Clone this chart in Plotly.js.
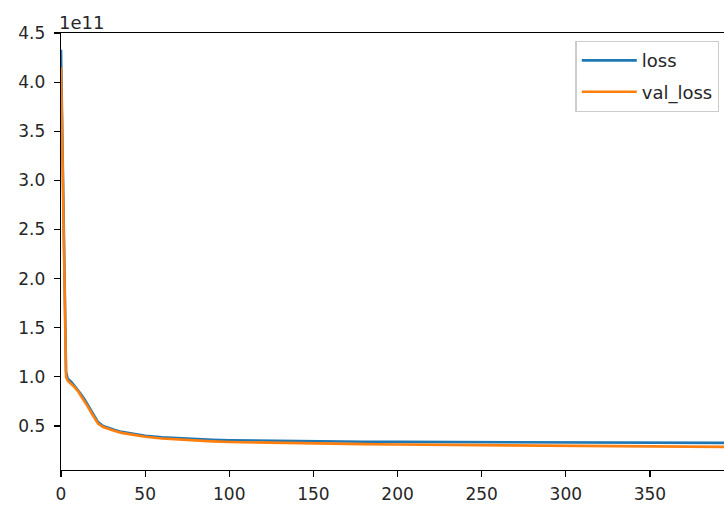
<!DOCTYPE html>
<html>
<head>
<meta charset="utf-8">
<script src="https://cdn.plot.ly/plotly-3.0.1.min.js"></script>
<style>html,body{margin:0;padding:0;background:#fff;}#chart{width:724px;height:508px;}</style>
</head>
<body>
<div id="chart"></div>
<script>
// Epochs sampled along the curves (values in units of 1e11)
const epochs = [0,1,2,3,4,6,8,10,12,14,16,18,20,22,25,28,32,36,40,45,50,60,70,80,90,100,120,140,160,180,200,225,250,275,300,325,350,375,399];
const loss = [4.33,3.20,2.10,1.05,0.98,0.95,0.91,0.87,0.82,0.77,0.71,0.65,0.59,0.54,0.50,0.48,0.46,0.44,0.43,0.415,0.40,0.385,0.375,0.367,0.360,0.355,0.350,0.345,0.342,0.340,0.338,0.336,0.334,0.333,0.332,0.331,0.330,0.329,0.328];
const valLoss = [4.15,3.10,2.00,1.00,0.96,0.93,0.895,0.855,0.805,0.755,0.695,0.635,0.575,0.525,0.49,0.47,0.45,0.43,0.418,0.403,0.39,0.372,0.36,0.35,0.343,0.337,0.330,0.324,0.319,0.315,0.311,0.307,0.303,0.300,0.297,0.294,0.291,0.289,0.287];
const yTicks = [0.5,1.0,1.5,2.0,2.5,3.0,3.5,4.0,4.5];
const yTickLabels = ["0.5","1.0","1.5","2.0","2.5","3.0","3.5","4.0","4.5"];
const xTicks = [0,50,100,150,200,250,300,350];
const SCALE = 1e11;

const font = {family: "DejaVu Sans", size: 17, color: "#262626"};
const legFont = {family: "DejaVu Sans", size: 18, color: "#262626"};
const data = [
  {x: epochs, y: loss.map(v => v*SCALE), name: "loss", type: "scatter", mode: "lines",
   line: {color: "#1f77b4", width: 2.6}, legendgroup: "a"},
  {x: epochs, y: valLoss.map(v => v*SCALE), name: "val_loss", type: "scatter", mode: "lines",
   line: {color: "#ff7f0e", width: 2.6}, legendgroup: "b"}
];
const layout = {
  width: 724, height: 508,
  margin: {l: 61, r: 0, t: 33, b: 38},
  paper_bgcolor: "#fff", plot_bgcolor: "#fff",
  font: font,
  showlegend: true,
  xaxis: {range: [0, 394], tickvals: xTicks, ticks: "outside", ticklen: 6, tickwidth: 1.2,
          tickcolor: "#000", showgrid: false, zeroline: false, showline: true, linecolor: "#000",
          linewidth: 1.3, mirror: true, tickfont: font, ticklabelstandoff: 2},
  yaxis: {range: [0.052*SCALE, 4.5*SCALE], tickvals: yTicks.map(v => v*SCALE), ticktext: yTickLabels,
          ticks: "outside", ticklen: 6, tickwidth: 1.2, tickcolor: "#000", showgrid: false,
          zeroline: false, showline: true, linecolor: "#000", linewidth: 1.3, tickfont: font,
          ticklabelstandoff: 5},
  legend: {x: 0.776, y: 0.982, xanchor: "left", yanchor: "top", bgcolor: "rgba(255,255,255,0.8)",
           bordercolor: "#cccccc", borderwidth: 1.3, font: legFont, tracegroupgap: 5, itemwidth: 55},
  annotations: [{text: "1e11", xref: "paper", yref: "paper", x: 0, y: 1, xanchor: "left",
                 yanchor: "bottom", showarrow: false, font: legFont, yshift: -2, xshift: -4}]
};
Plotly.newPlot("chart", data, layout, {displayModeBar: false, staticPlot: true});
</script>
</body>
</html>
